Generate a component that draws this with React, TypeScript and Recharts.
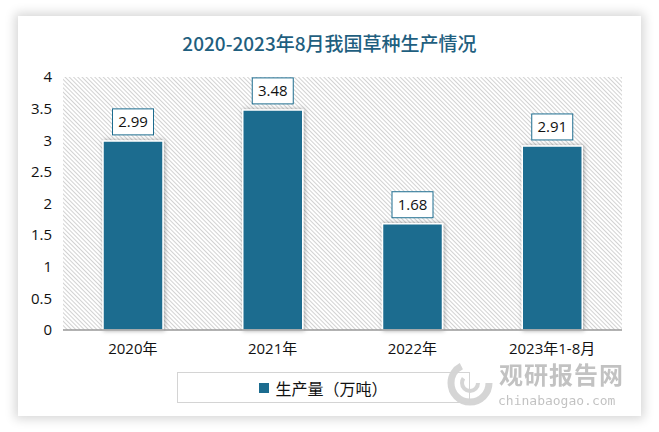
import React from 'react';
import { BarChart, Bar, XAxis, YAxis, CartesianGrid, Legend, LabelList } from 'recharts';

const CATEGORIES = ['2020年', '2021年', '2022年', '2023年1-8月'];
const OUTPUT = [2.99, 3.48, 1.68, 2.91];
const Y_TICKS = [0, 0.5, 1, 1.5, 2, 2.5, 3, 3.5, 4];
const SERIES_NAME = '生产量（万吨）';

const data = CATEGORIES.map((name, i) => ({ name, value: OUTPUT[i] }));

const BAR_COLOR = '#1c6c8f';
const FONT = '"Open Sans", "Noto Sans CJK SC", sans-serif';

const ValueLabel = (props: any) => {
  const { x, y, width, value } = props;
  const cx = x + width / 2;
  const w = 41;
  const h = 26;
  const bottom = y - 6;
  return (
    <g>
      <rect x={cx - w / 2} y={bottom - h} width={w} height={h} fill="#fff" stroke={BAR_COLOR} strokeWidth={1} />
      <text x={cx} y={bottom - h / 2 + 1} textAnchor="middle" dominantBaseline="middle" fontSize={15} fill="#111" fontFamily={FONT}>
        {value}
      </text>
    </g>
  );
};

const LegendBox = () => (
  <div
    style={{
      width: 293,
      height: 31,
      boxSizing: 'border-box',
      border: '1px solid #d4d4d4',
      display: 'flex',
      alignItems: 'center',
      justifyContent: 'center',
      fontFamily: FONT,
      fontSize: 16,
      color: '#111',
    }}
  >
    <span style={{ width: 10, height: 10, background: BAR_COLOR, display: 'inline-block', marginRight: 6 }} />
    {SERIES_NAME}
  </div>
);

export default function App() {
  return (
    <div style={{ position: 'fixed', left: 0, top: 0, width: 659, height: 432, background: '#fff', overflow: 'hidden' }}>
      {/* card */}
      <div
        style={{
          position: 'absolute',
          left: 18,
          top: 16,
          width: 623,
          height: 400,
          background: '#fff',
          boxShadow: '0 0 10px 3px rgba(0,0,0,0.16)',
        }}
      />
      <div
        style={{
          position: 'absolute',
          left: 18,
          top: 29,
          width: 623,
          textAlign: 'center',
          fontFamily: '"Noto Sans CJK SC", sans-serif',
          fontSize: 19,
          fontWeight: 500,
          color: '#1f5f7f',
        }}
      >
        2020-2023年8月我国草种生产情况
      </div>
      {/* watermark */}
      <div style={{ position: 'absolute', left: 445, top: 358, width: 50, height: 50, opacity: 0.35 }}>
        <svg width={50} height={50}>
          <circle cx={25} cy={25} r={19} fill="none" stroke="#888" strokeWidth={7} strokeDasharray="80 40" />
          <circle cx={25} cy={25} r={8} fill="none" stroke="#888" strokeWidth={4} strokeDasharray="30 20" />
        </svg>
      </div>
      <div
        style={{
          position: 'absolute',
          left: 499,
          top: 362,
          fontFamily: '"Noto Sans CJK SC", sans-serif',
          fontSize: 24,
          lineHeight: '24px',
          fontWeight: 700,
          color: '#9a9a9a',
          opacity: 0.6,
          letterSpacing: 1,
        }}
      >
        观研报告网
      </div>
      <div
        style={{
          position: 'absolute',
          left: 498,
          top: 393,
          fontFamily: '"DejaVu Sans Mono", monospace',
          fontSize: 13,
          color: '#9a9a9a',
          opacity: 0.6,
        }}
      >
        chinabaogao.com
      </div>
      <div style={{ position: 'absolute', left: 0, top: 0 }}>
        <BarChart width={659} height={432} data={data} margin={{ top: 77, right: 37, bottom: 72, left: 13 }}>
          <defs>
            <pattern id="hatch" patternUnits="userSpaceOnUse" width={3} height={3} patternTransform="rotate(-45)">
              <rect width={3} height={3} fill="#fff" />
              <line x1={0.5} y1={0} x2={0.5} y2={3} stroke="#d2d2d2" strokeWidth={1} />
            </pattern>
            <filter id="barShadow" x="-20%" y="-10%" width="140%" height="120%">
              <feDropShadow dx={1} dy={0} stdDeviation={2.2} floodColor="#000" floodOpacity={0.35} />
            </filter>
          </defs>
          <CartesianGrid fill="url(#hatch)" stroke="none" horizontal={false} vertical={false} />
          <XAxis
            dataKey="name"
            tickLine={false}
            tickSize={0}
            tickMargin={13}
            axisLine={{ stroke: '#999', strokeWidth: 1.5 }}
            tick={{ fill: '#111', fontSize: 15, fontFamily: FONT }}
            height={30}
            interval={0}
          />
          <YAxis
            domain={[0, 4]}
            ticks={Y_TICKS}
            width={50}
            tickLine={false}
            tickSize={0}
            tickMargin={11}
            axisLine={false}
            tick={{ fill: '#111', fontSize: 15, fontFamily: FONT }}
          />
          <Legend
            layout="horizontal"
            verticalAlign="middle"
            align="center"
            wrapperStyle={{ position: 'absolute', left: 177, top: 372, width: 293, height: 31 }}
            content={() => <LegendBox />}
          />
          <Bar
            dataKey="value"
            name={SERIES_NAME}
            fill={BAR_COLOR}
            stroke="#fff"
            strokeWidth={1.5}
            barSize={60}
            filter="url(#barShadow)"
            isAnimationActive={false}
          >
            <LabelList dataKey="value" content={ValueLabel} />
          </Bar>
        </BarChart>
      </div>
    </div>
  );
}
